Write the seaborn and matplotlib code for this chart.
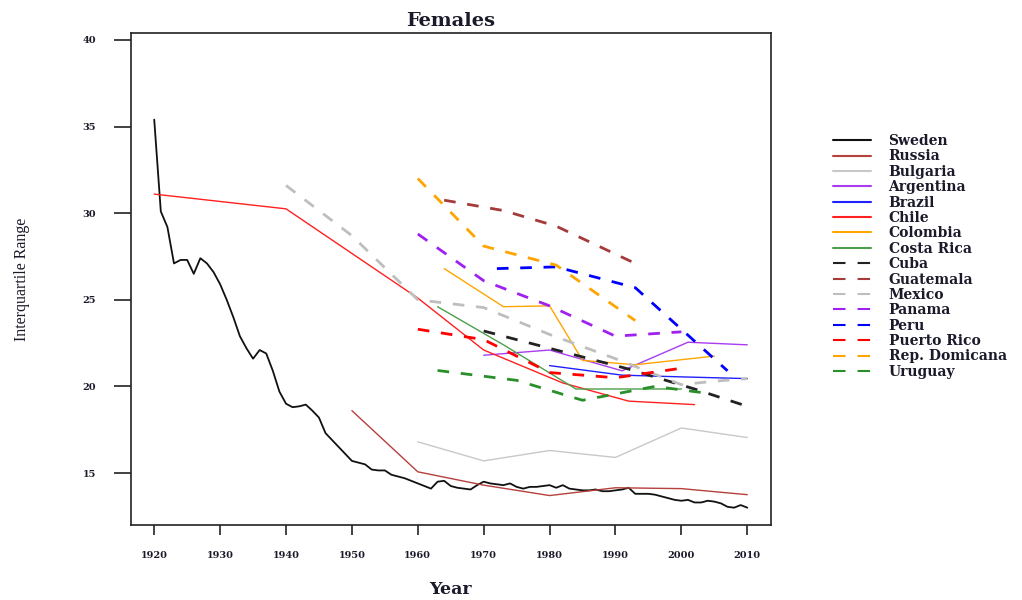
import numpy as np
import pandas as pd
import seaborn as sns
import matplotlib.pyplot as plt
from matplotlib.lines import Line2D

# ---------------- data ----------------
sweden_years = list(range(1920, 2011))
sweden_iqr = [35.4, 30.1, 29.2, 27.1, 27.3, 27.3, 26.5, 27.4, 27.1, 26.6,
              25.9, 25.0, 24.0, 22.9, 22.2, 21.6, 22.1, 21.9, 20.9, 19.7,
              19.0, 18.8, 18.85, 18.95, 18.6, 18.2, 17.3, 16.9, 16.5, 16.1,
              15.7, 15.6, 15.5, 15.2, 15.15, 15.15, 14.9, 14.8, 14.7, 14.55,
              14.4, 14.25, 14.1, 14.5, 14.55, 14.25, 14.15, 14.1, 14.05, 14.3,
              14.5, 14.4, 14.35, 14.3, 14.4, 14.2, 14.1, 14.2, 14.2, 14.25,
              14.3, 14.15, 14.3, 14.1, 14.05, 14.0, 14.0, 14.05, 13.95, 13.95,
              14.0, 14.05, 14.15, 13.8, 13.8, 13.8, 13.75, 13.65, 13.55, 13.45,
              13.4, 13.45, 13.3, 13.3, 13.4, 13.35, 13.25, 13.05, 13.0, 13.15,
              13.0]

russia_years = [1950, 1960, 1970, 1980, 1990, 2000, 2010]
russia_iqr = [18.6, 15.07, 14.3, 13.7, 14.15, 14.1, 13.75]

bulgaria_years = [1960, 1970, 1980, 1990, 2000, 2010]
bulgaria_iqr = [16.8, 15.7, 16.3, 15.9, 17.6, 17.05]

argentina_years = [1970, 1980, 1991, 2001, 2010]
argentina_iqr = [21.8, 22.1, 20.9, 22.55, 22.4]

brazil_years = [1980, 1991, 2000, 2010]
brazil_iqr = [21.2, 20.65, 20.55, 20.45]

chile_years = [1920, 1940, 1960, 1970, 1982, 1992, 2002]
chile_iqr = [31.1, 30.25, 25.1, 22.1, 20.2, 19.15, 18.95]

colombia_years = [1964, 1973, 1980, 1985, 1993, 2005]
colombia_iqr = [26.8, 24.6, 24.65, 21.5, 21.25, 21.75]

costarica_years = [1963, 1973, 1984, 2000]
costarica_iqr = [24.6, 22.4, 19.85, 19.85]

cuba_years = [1970, 1981, 1992, 2002, 2010]
cuba_iqr = [23.2, 22.1, 21.0, 19.85, 18.85]

guatemala_years = [1964, 1973, 1981, 1993]
guatemala_iqr = [30.75, 30.15, 29.25, 27.1]

mexico_years = [1940, 1950, 1960, 1970, 1980, 1990, 2000, 2005, 2010]
mexico_iqr = [31.6, 28.7, 25.0, 24.55, 23.0, 21.6, 20.1, 20.3, 20.45]

panama_years = [1960, 1970, 1980, 1990, 2000]
panama_iqr = [28.8, 26.1, 24.65, 22.9, 23.15]

peru_years = [1972, 1981, 1993, 2007]
peru_iqr = [26.8, 26.9, 25.7, 20.9]

puertorico_years = [1960, 1970, 1980, 1990, 2000]
puertorico_iqr = [23.3, 22.7, 20.8, 20.5, 21.05]

repdom_years = [1960, 1970, 1981, 1993]
repdom_iqr = [32.0, 28.1, 27.0, 23.8]

uruguay_years = [1963, 1975, 1985, 1996, 2004]
uruguay_iqr = [20.92, 20.35, 19.2, 20.0, 19.6]

countries = ["Sweden", "Russia", "Bulgaria", "Argentina", "Brazil", "Chile",
             "Colombia", "Costa Rica", "Cuba", "Guatemala", "Mexico", "Panama",
             "Peru", "Puerto Rico", "Rep. Domicana", "Uruguay"]
series = {
    "Sweden": (sweden_years, sweden_iqr),
    "Russia": (russia_years, russia_iqr),
    "Bulgaria": (bulgaria_years, bulgaria_iqr),
    "Argentina": (argentina_years, argentina_iqr),
    "Brazil": (brazil_years, brazil_iqr),
    "Chile": (chile_years, chile_iqr),
    "Colombia": (colombia_years, colombia_iqr),
    "Costa Rica": (costarica_years, costarica_iqr),
    "Cuba": (cuba_years, cuba_iqr),
    "Guatemala": (guatemala_years, guatemala_iqr),
    "Mexico": (mexico_years, mexico_iqr),
    "Panama": (panama_years, panama_iqr),
    "Peru": (peru_years, peru_iqr),
    "Puerto Rico": (puertorico_years, puertorico_iqr),
    "Rep. Domicana": (repdom_years, repdom_iqr),
    "Uruguay": (uruguay_years, uruguay_iqr),
}

x_ticks = [1920, 1930, 1940, 1950, 1960, 1970, 1980, 1990, 2000, 2010]
y_ticks = [15, 20, 25, 30, 35, 40]

# ---------------- styles ----------------
colors = {
    "Sweden": "#111111", "Russia": "#b5403c", "Bulgaria": "#c8c8c8",
    "Argentina": "#a93cf0", "Brazil": "#2020ff", "Chile": "#ff2020",
    "Colombia": "#ffa500", "Costa Rica": "#4c9f4c", "Cuba": "#222222",
    "Guatemala": "#a53a3a", "Mexico": "#bebebe", "Panama": "#a020f0",
    "Peru": "#0000ff", "Puerto Rico": "#ff0000", "Rep. Domicana": "#ffa500",
    "Uruguay": "#2a8f2a",
}
dashed = {"Cuba", "Guatemala", "Mexico", "Panama", "Peru", "Puerto Rico",
          "Rep. Domicana", "Uruguay"}

sns.set_style("white")
plt.rcParams['font.family'] = ['DejaVu Serif']

fig = plt.figure(figsize=(10.22, 6.0), dpi=100)
ax = fig.add_axes([130.5 / 1022, 75 / 600, (771 - 130.5) / 1022, (525 - 33) / 600])

rows = []
for c in countries:
    yrs, vals = series[c]
    for yv, v in zip(yrs, vals):
        rows.append((c, yv, v))
df = pd.DataFrame(rows, columns=["country", "year", "iqr"])

for c in countries:
    sub = df[df["country"] == c]
    if c in dashed:
        sns.lineplot(data=sub, x="year", y="iqr", ax=ax, color=colors[c],
                     linewidth=2.0, linestyle=(0, (4.2, 4.2)),
                     estimator=None, sort=False, legend=False)
    elif c == "Sweden":
        sns.lineplot(data=sub, x="year", y="iqr", ax=ax, color=colors[c],
                     linewidth=1.3, estimator=None, sort=False, legend=False)
    else:
        sns.lineplot(data=sub, x="year", y="iqr", ax=ax, color=colors[c],
                     linewidth=1.0, estimator=None, sort=False, legend=False)

ax.set_xlim(1916.4, 2013.6)
ax.set_ylim(12.0, 40.4)
ax.set_xticks(x_ticks)
ax.set_yticks(y_ticks)
ax.set_xticklabels([str(t) for t in x_ticks], fontsize=7, fontweight='bold',
                   color='#1a1a2a')
ax.set_yticklabels([str(t) for t in y_ticks], fontsize=7, fontweight='bold',
                   color='#1a1a2a')
ax.tick_params(axis='x', direction='out', length=7.5, width=1.2, pad=11,
               color='#222222', bottom=True)
ax.tick_params(axis='y', direction='out', length=12, width=1.2, pad=13,
               color='#222222', left=True)
for s in ax.spines.values():
    s.set_visible(True)
    s.set_color('#222222')
    s.set_linewidth(1.2)

ax.set_title("Females", fontsize=14, fontweight='bold', color='#1a1a2a', pad=5)
ax.set_xlabel("Year", fontsize=12.5, fontweight='bold', color='#1a1a2a')
ax.xaxis.set_label_coords(0.5, -0.113)
ax.set_ylabel("Interquartile Range", fontsize=11.5, family=['Liberation Serif'],
              color='#1a1a2a')
ax.yaxis.set_label_coords(-0.157, 0.5)

handles = []
for c in countries:
    if c in dashed:
        h = Line2D([0], [0], color=colors[c], linewidth=1.5,
                   linestyle=(0, (6.0, 5.8)))
    else:
        h = Line2D([0], [0], color=colors[c], linewidth=1.5)
    handles.append(h)
leg = fig.legend(handles, countries, loc='upper left',
                 bbox_to_anchor=(833 / 1022, 1 - 134 / 600),
                 frameon=False, borderpad=0, borderaxespad=0,
                 handlelength=2.7, handletextpad=1.3, labelspacing=0.1,
                 prop={'family': 'DejaVu Serif', 'weight': 'bold', 'size': 10})
for t in leg.get_texts():
    t.set_color('#1a1a2a')

fig.savefig("out.png", dpi=100)
